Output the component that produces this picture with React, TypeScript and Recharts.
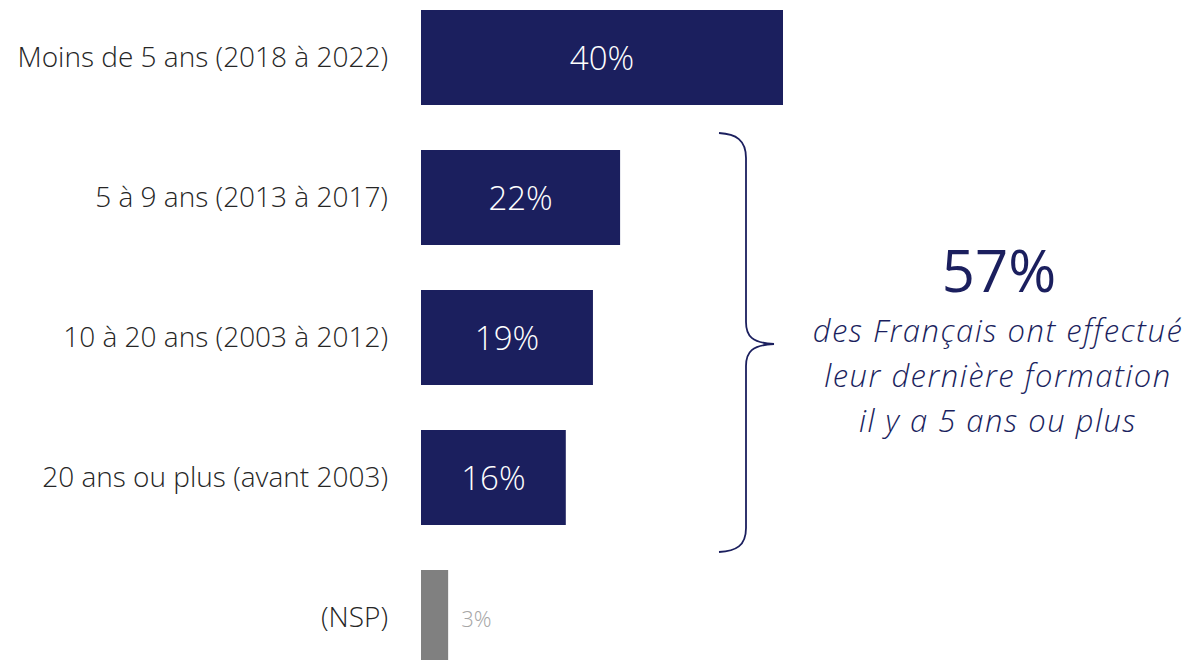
import { BarChart, Bar, XAxis, YAxis, Cell, LabelList } from "recharts";

const categories = [
  "Moins de 5 ans (2018 à 2022)",
  "5 à 9 ans (2013 à 2017)",
  "10 à 20 ans (2003 à 2012)",
  "20 ans ou plus (avant 2003)",
  "(NSP)",
];
const values = [40, 22, 19, 16, 3];
const barColors = ["#1b1f5e", "#1b1f5e", "#1b1f5e", "#1b1f5e", "#808080"];

const summaryValue = "57%";
const summaryLines = [
  "des Français ont effectué",
  "leur dernière formation",
  "il y a 5 ans ou plus",
];

const data = categories.map((name, i) => ({ name, value: values[i] }));

const FONT = "'Open Sans', 'Noto Sans', sans-serif";

function ValueLabel(props: any) {
  const { x, y, width, height, value, index } = props;
  const isNsp = index === categories.length - 1;
  if (isNsp) {
    return (
      <text
        x={x + width + 13}
        y={y + height / 2}
        dominantBaseline="central"
        fill="#a6a6a6"
        fontSize={22}
        fontFamily={FONT}
        fontWeight={300}
      >
        {value}%
      </text>
    );
  }
  return (
    <text
      x={x + width / 2}
      y={y + height / 2}
      textAnchor="middle"
      dominantBaseline="central"
      fill="#ffffff"
      fontSize={33}
      fontFamily={FONT}
      fontWeight={300}
    >
      {value}%
    </text>
  );
}

export default function App() {
  return (
    <div style={{ position: "absolute", left: 0, top: 0, width: 1191, height: 660, overflow: "hidden", background: "#fff" }}>
      <div style={{ position: "absolute", left: 0, top: -13 }}>
        <BarChart
          layout="vertical"
          width={1191}
          height={700}
          data={data}
          margin={{ top: 0, right: 408, bottom: 0, left: 0 }}
        >
          <XAxis type="number" domain={[0, 40]} hide />
          <YAxis
            type="category"
            dataKey="name"
            width={421}
            axisLine={false}
            tickLine={false}
            tickSize={0}
            tickMargin={33}
            tick={{ fill: "#262626", fontSize: 28, fontFamily: FONT, fontWeight: 300 }}
          />
          <Bar dataKey="value" barSize={95} isAnimationActive={false}>
            {data.map((d, i) => (
              <Cell key={d.name} fill={barColors[i]} />
            ))}
            <LabelList dataKey="value" content={<ValueLabel />} />
          </Bar>
        </BarChart>
      </div>
      <svg
        width={1191}
        height={660}
        style={{ position: "absolute", left: 0, top: 0, pointerEvents: "none" }}
      >
        {/* brace grouping bars 2-4 */}
        <path
          d="M719,133 C736,134 746,140 746,158 L746,322 C746,336 752,343 774,344 C752,345 746,352 746,366 L746,528 C746,546 736,551 719,552"
          fill="none"
          stroke="#1b1f5e"
          strokeWidth={1.8}
        />
        <text
          x={999}
          y={292}
          textAnchor="middle"
          fill="#1b1f5e"
          fontSize={58}
          fontFamily={FONT}
          fontWeight={400}
        >
          {summaryValue}
        </text>
        {summaryLines.map((line, i) => (
          <text
            key={line}
            x={998}
            y={342 + i * 45}
            textAnchor="middle"
            fill="#1b1f5e"
            fontSize={31}
            fontStyle="italic"
            fontFamily={FONT}
            fontWeight={300}
            letterSpacing={1.5}
          >
            {line}
          </text>
        ))}
      </svg>
    </div>
  );
}
